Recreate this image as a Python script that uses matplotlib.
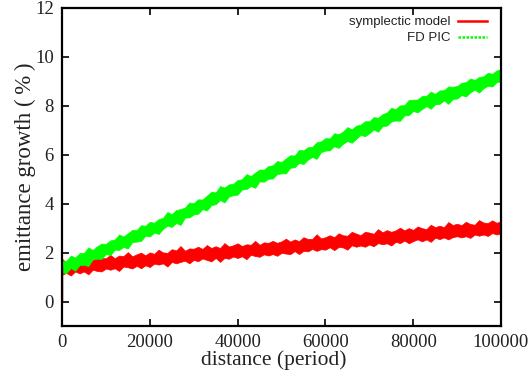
import matplotlib
matplotlib.use("Agg")
import matplotlib.pyplot as plt
from matplotlib.lines import Line2D

distance = list(range(0, 100001, 1000))

red_upper = [1.75,1.59,1.69,1.59,1.79,1.66,1.74,1.68,1.84,1.78,
             1.77,1.91,1.77,1.88,1.86,2.02,1.85,1.93,2.00,1.89,
             2.01,1.95,2.12,2.01,1.99,2.14,2.09,2.27,2.08,2.17,
             2.16,2.24,2.15,2.31,2.19,2.26,2.19,2.39,2.25,2.30,
             2.38,2.27,2.34,2.32,2.48,2.32,2.42,2.40,2.48,2.40,
             2.46,2.57,2.45,2.54,2.47,2.63,2.56,2.56,2.75,2.58,
             2.63,2.71,2.63,2.79,2.71,2.69,2.85,2.78,2.71,2.85,
             2.82,2.77,2.96,2.83,2.92,2.85,2.91,3.02,2.91,3.00,
             2.93,3.07,3.00,2.96,3.14,3.04,3.10,3.04,3.25,3.13,
             3.18,3.12,3.26,3.17,3.14,3.33,3.23,3.21,3.32,3.22,3.28]
red_lower = [1.10,1.17,1.06,1.23,1.15,1.23,1.11,1.30,1.25,1.23,
             1.35,1.30,1.36,1.25,1.43,1.40,1.35,1.46,1.36,1.48,
             1.41,1.55,1.51,1.56,1.43,1.62,1.56,1.62,1.67,1.56,
             1.70,1.65,1.76,1.70,1.64,1.78,1.62,1.78,1.75,1.84,
             1.78,1.85,1.73,1.91,1.86,1.83,1.93,1.88,1.94,1.87,
             1.99,1.96,1.94,2.06,1.94,2.07,2.05,2.15,2.07,2.14,
             2.12,2.22,2.10,2.23,2.21,2.12,2.30,2.24,2.29,2.24,
             2.33,2.26,2.39,2.34,2.38,2.29,2.44,2.39,2.49,2.38,
             2.47,2.54,2.46,2.54,2.44,2.61,2.55,2.62,2.54,2.63,
             2.67,2.62,2.67,2.60,2.74,2.69,2.74,2.68,2.80,2.74,2.79]

green_upper = [1.65,1.67,1.88,1.80,1.98,1.99,2.21,2.11,2.26,2.37,2.36,
               2.50,2.53,2.74,2.66,2.79,2.93,2.92,3.12,3.10,3.26,
               3.22,3.37,3.42,3.66,3.57,3.74,3.78,3.84,4.05,4.02,
               4.18,4.17,4.33,4.49,4.46,4.72,4.66,4.79,4.81,4.97,
               5.00,5.21,5.13,5.27,5.40,5.39,5.54,5.57,5.74,5.71,
               5.85,5.98,5.97,6.20,6.18,6.31,6.32,6.51,6.55,6.68,
               6.67,6.88,6.84,6.95,7.13,7.04,7.19,7.23,7.37,7.37,
               7.54,7.51,7.66,7.73,7.92,7.87,8.02,8.03,8.24,8.25,
               8.26,8.41,8.41,8.58,8.49,8.63,8.64,8.79,8.78,8.81,
               8.94,8.97,9.12,9.06,9.18,9.21,9.35,9.31,9.45,9.48]
green_lower = [1.18,1.17,1.37,1.26,1.49,1.50,1.45,1.73,1.75,1.74,1.95,
               1.89,2.12,2.11,2.23,2.17,2.43,2.45,2.48,2.69,2.66,
               2.82,2.76,2.97,3.10,3.05,3.21,3.13,3.43,3.44,3.56,
               3.59,3.78,3.72,3.94,3.98,4.15,4.05,4.29,4.35,4.37,
               4.58,4.60,4.72,4.65,4.91,4.90,5.02,5.03,5.21,5.24,
               5.24,5.47,5.49,5.67,5.62,5.80,5.91,5.83,6.11,6.17,
               6.18,6.35,6.28,6.45,6.56,6.49,6.65,6.81,6.76,6.88,
               7.03,6.94,7.17,7.19,7.36,7.40,7.39,7.61,7.62,7.79,
               7.73,7.87,7.99,7.88,8.06,8.08,8.22,8.08,8.28,8.30,
               8.44,8.38,8.55,8.66,8.54,8.72,8.82,8.79,8.97,8.99]

start_x = [0, 0]
start_y = [0, 1.4]

xticks = [0, 20000, 40000, 60000, 80000, 100000]
yticks = [0, 2, 4, 6, 8, 10, 12]
labels = ["symplectic model", "FD PIC"]

fig = plt.figure(figsize=(5.29, 3.83), dpi=100)
ax = fig.add_axes([62/529, 1-326/383, (501-62)/529, (326-8)/383])

red = "#ff0000"
green = "#00ff00"

ax.fill_between(distance, red_lower, red_upper, color=red, linewidth=0.5, edgecolor=red)
ax.plot(start_x, start_y, color="#cc0000", lw=1)
ax.fill_between(distance, green_lower, green_upper, color=green, linewidth=0.5, edgecolor=green)
ax.plot(start_x, start_y, color="#00aa00", lw=0.8)

ax.set_xlim(0, 100000)
ax.set_ylim(-1, 12)
ax.set_xticks(xticks)
ax.set_yticks(yticks)

serif = "Liberation Serif"
ax.set_xticklabels([str(t) for t in xticks], family=serif, fontsize=13.5)
ax.set_yticklabels([str(t) for t in yticks], family=serif, fontsize=13.5)
ax.tick_params(direction="in", top=True, right=True, length=5, width=1.2, pad=6,
               colors="black", labelcolor="#222222")
for s in ax.spines.values():
    s.set_linewidth(1.6)
    s.set_color("black")

ax.set_xlabel("distance (period)", family=serif, fontsize=15.5, color="#222222")
ax.xaxis.set_label_coords(0.483, -0.076)
ax.set_ylabel("emittance growth (\u2009%\u2009)", family=[serif, "DejaVu Serif"],
              fontsize=16.5, labelpad=-1, color="#222222")

handles = [Line2D([0], [0], color=red, lw=1.8),
           Line2D([0], [0], color=green, lw=1.8, linestyle=(0, (1, 0.6)))]
leg = ax.legend(handles, labels, loc="upper right", bbox_to_anchor=(1 - 6/439, 1),
                frameon=False, markerfirst=False,
                prop={"family": "Liberation Sans", "size": 9.5}, handlelength=2.2,
                handletextpad=0.6, labelspacing=0.3, borderaxespad=0.2)
for t in leg.get_texts():
    t.set_color("#222222")

fig.savefig("out.png", dpi=100)
